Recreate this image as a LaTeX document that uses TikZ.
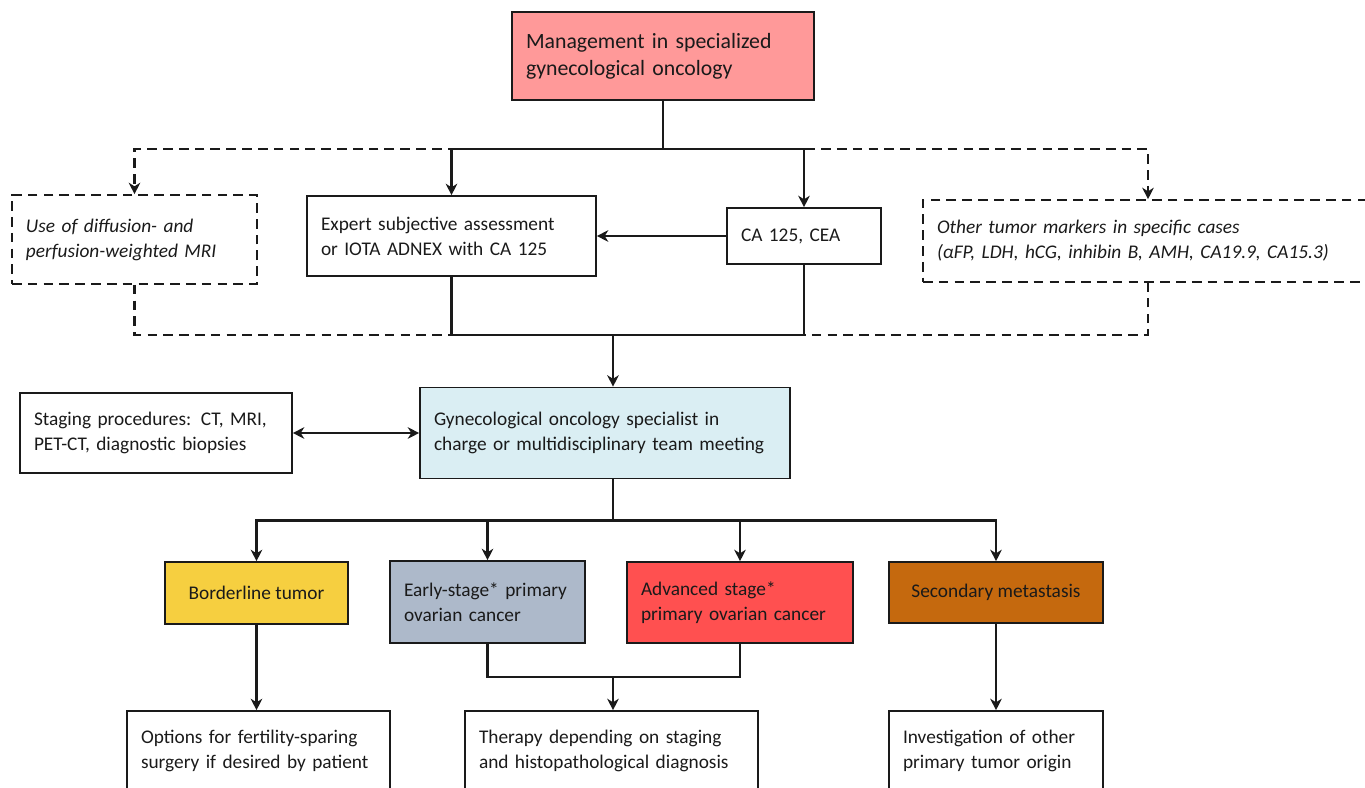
\documentclass[tikz,border=0pt]{standalone}
\usepackage{fontspec}
\setmainfont{Carlito}
\usetikzlibrary{arrows.meta}
\definecolor{ink}{HTML}{1A1A1A}
\definecolor{rosebox}{HTML}{FF9999}
\definecolor{iceblue}{HTML}{DAEEF3}
\definecolor{amber}{HTML}{F6CF40}
\definecolor{slategrey}{HTML}{ADB9CA}
\definecolor{coral}{HTML}{FF5050}
\definecolor{rust}{HTML}{C5690E}

\begin{document}
\begin{tikzpicture}[font=\fontsize{11}{14.2}\selectfont,
    >={Stealth[length=6.5pt,width=6.5pt,inset=2pt]},
    box/.style={draw=ink,line width=0.9pt,inner xsep=0.28cm,align=left,text=ink},
    optbox/.style={box,dash pattern=on 5.5pt off 3.5pt,font=\fontsize{11}{14.2}\selectfont\itshape},
    link/.style={ink,line width=1.2pt},
    dlink/.style={link,dash pattern=on 5.5pt off 3.5pt}]
  \useasboundingbox (0,0) rectangle (27.3,-15.76);
  \clip (0,0) rectangle (27.3,-15.76);

  \node[box,fill=rosebox,text width=5.48cm,minimum height=1.76cm,font=\fontsize{12.4}{15.3}\selectfont] (mgmt) at (13.26,-1.12) {Management in specialized\\gynecological oncology};
  \node[optbox,text width=4.34cm,minimum height=1.78cm] (mri) at (2.69,-4.79) {Use of diffusion- and\\perfusion-weighted MRI};
  \node[box,text width=5.22cm,minimum height=1.6cm] (expert) at (9.03,-4.72) {Expert subjective assessment\\or IOTA ADNEX with CA 125};
  \node[box,text width=2.52cm,minimum height=1.12cm] (ca) at (16.08,-4.72) {CA 125, CEA};
  \node[optbox,text width=8.44cm,minimum height=1.64cm] (markers) at (22.96,-4.82) {Other tumor markers in specific cases\\(αFP, LDH, hCG, inhibin B, AMH, CA19.9, CA15.3)};

  \node[box,fill=iceblue,text width=6.84cm,minimum height=1.82cm] (gyn) at (12.1,-8.66) {Gynecological oncology specialist in\\charge or multidisciplinary team meeting};
  \node[box,text width=4.88cm,minimum height=1.6cm] (staging) at (3.12,-8.66) {Staging procedures: CT, MRI,\\PET-CT, diagnostic biopsies};

  \node[box,fill=amber,align=center,minimum width=3.66cm,minimum height=1.24cm] (border) at (5.13,-11.86) {Borderline tumor};
  \node[box,fill=slategrey,text width=3.34cm,minimum height=1.64cm] (early) at (9.75,-12.04) {Early-stage* primary\\ovarian cancer};
  \node[box,fill=coral,text width=3.96cm,minimum height=1.62cm] (adv) at (14.8,-12.05) {Advanced stage*\\primary ovarian cancer};
  \node[box,fill=rust,align=center,minimum width=4.28cm,minimum height=1.22cm] (second) at (19.92,-11.85) {Secondary metastasis};

  \node[box,text width=4.7cm,minimum height=1.6cm] (options) at (5.17,-15.02) {Options for fertility-sparing\\surgery if desired by patient};
  \node[box,text width=5.3cm,minimum height=1.6cm] (therapy) at (12.23,-15.02) {Therapy depending on staging\\and histopathological diagnosis};
  \node[box,text width=3.72cm,minimum height=1.6cm] (invest) at (19.92,-15.02) {Investigation of other\\primary tumor origin};

  \coordinate (split1) at (13.26,-2.98);
  \coordinate (join1) at (12.26,-6.7);
  \coordinate (split2) at (12.26,-10.41);
  \coordinate (join2) at (12.26,-13.54);

  \draw[dlink,->] (split1) -| (mri.north);
  \draw[dlink,->] (split1) -| (markers.north);
  \draw[dlink] (mri.south) |- (join1) -| (markers.south);

  \draw[link] (mgmt.south) -- (split1);
  \draw[link,->] (split1) -| (expert.north);
  \draw[link,->] (split1) -| (ca.north);
  \draw[link,->] (ca.west) -- (ca.west -| expert.east);
  \draw[link] (expert.south) |- (join1) -| (ca.south);
  \draw[link,->] (join1) -- (join1 |- gyn.north);
  \draw[link,<->] (staging.east) -- (gyn.west);

  \draw[link] (gyn.south -| split2) -- (split2);
  \draw[link,->] (split2) -| (border.north);
  \draw[link,->] (split2) -| (early.north);
  \draw[link,->] (split2) -| (adv.north);
  \draw[link,->] (split2) -| (second.north);

  \draw[link,->] (border.south) -- (border.south |- options.north);
  \draw[link] (early.south) |- (join2) -| (adv.south);
  \draw[link,->] (join2) -- (join2 |- therapy.north);
  \draw[link,->] (second.south) -- (invest.north);
\end{tikzpicture}
\end{document}
